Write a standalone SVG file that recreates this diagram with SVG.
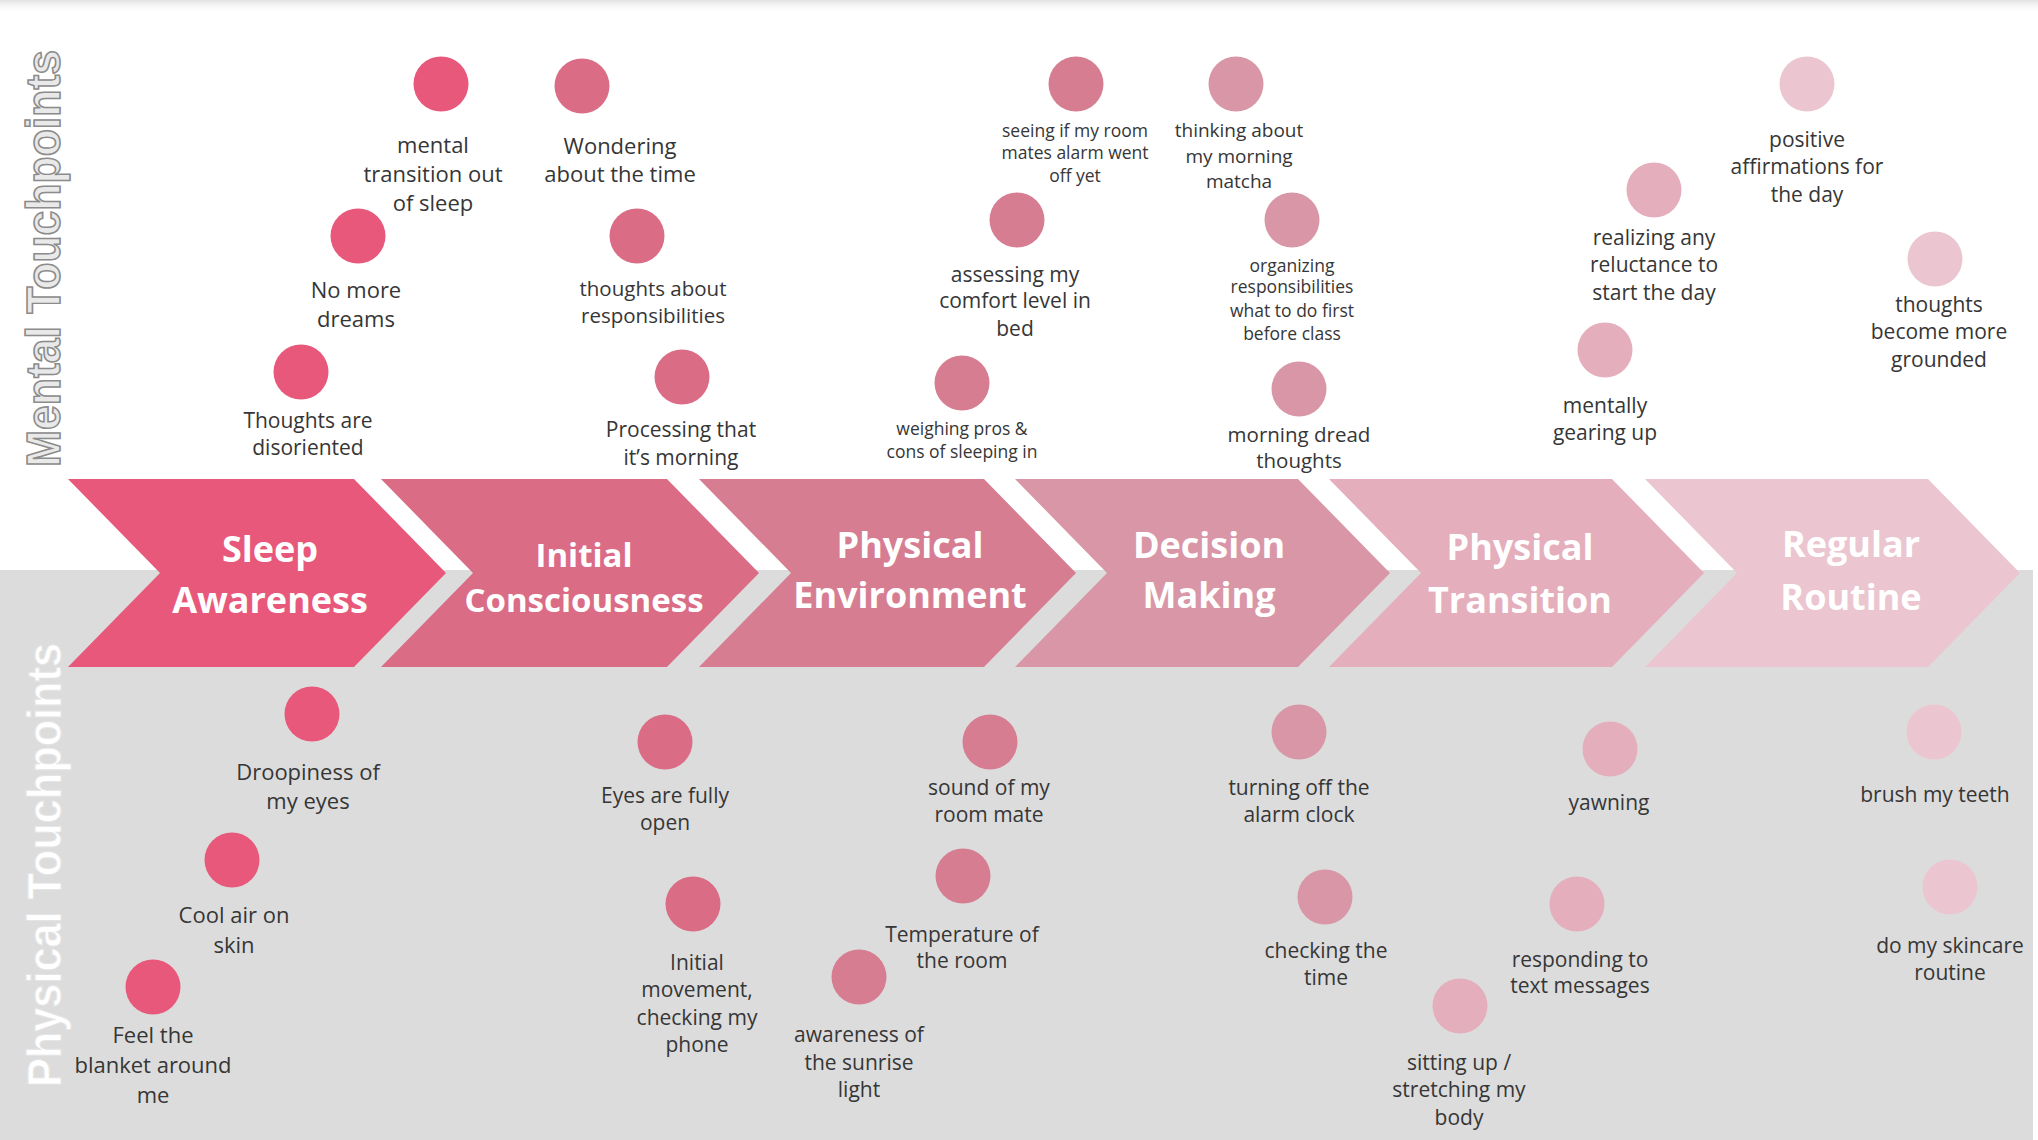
<svg xmlns="http://www.w3.org/2000/svg" width="2038" height="1140" viewBox="0 0 2038 1140">
<defs>
<linearGradient id="topshade" x1="0" y1="0" x2="0" y2="1">
<stop offset="0" stop-color="#e2e2e2"/>
<stop offset="1" stop-color="#ffffff" stop-opacity="0"/>
</linearGradient>
<style>
.lb{font-family:"Open Sans","Noto Sans","DejaVu Sans",sans-serif;fill:#363636;text-anchor:middle}
.ch{font-family:"Open Sans","Noto Sans","DejaVu Sans",sans-serif;font-weight:700;fill:#ffffff;text-anchor:middle}
.side{font-family:"Liberation Sans",Arial,sans-serif;font-weight:700;font-size:48px}
.s1{fill:#E8587A}.s2{fill:#DA6C86}.s3{fill:#D67D92}.s4{fill:#D896A7}.s5{fill:#E4AEBC}.s6{fill:#EBC6D0}
</style>
</defs>
<rect x="0" y="0" width="2038" height="1140" fill="#ffffff"/>
<rect x="0" y="0" width="2038" height="14" fill="url(#topshade)"/>
<rect x="0" y="570" width="2033" height="570" fill="#DCDCDC"/>

<g id="side-labels">
<text class="side" transform="translate(60,467) rotate(-90)" textLength="417" lengthAdjust="spacingAndGlyphs" fill="#e9e9e9" stroke="#8c8c8c" stroke-width="1.6">Mental Touchpoints</text>
<text class="side" transform="translate(61,1087) rotate(-90)" textLength="444" lengthAdjust="spacingAndGlyphs" fill="#ffffff" stroke="#e4e4e4" stroke-width="1">Physical Touchpoints</text>
</g>

<g id="stages">
<g id="stage-sleep-awareness">
<polygon class="s1" points="68,479 354,479 446,573 354,667 68,667 160,573"/>
<text class="ch" font-size="36"><tspan x="270" y="562">Sleep</tspan><tspan x="270" y="613">Awareness</tspan></text>
</g>
<g id="stage-initial-consciousness">
<polygon class="s2" points="381,479 667,479 759,573 667,667 381,667 473,573"/>
<text class="ch" font-size="33"><tspan x="584" y="567">Initial</tspan><tspan x="584" y="612">Consciousness</tspan></text>
</g>
<g id="stage-physical-environment">
<polygon class="s3" points="699,479 984,479 1076,573 984,667 699,667 791,573"/>
<text class="ch" font-size="36"><tspan x="910" y="558">Physical</tspan><tspan x="910" y="608">Environment</tspan></text>
</g>
<g id="stage-decision-making">
<polygon class="s4" points="1015,479 1298,479 1390,573 1298,667 1015,667 1107,573"/>
<text class="ch" font-size="36"><tspan x="1209" y="558">Decision</tspan><tspan x="1209" y="608">Making</tspan></text>
</g>
<g id="stage-physical-transition">
<polygon class="s5" points="1329,479 1612,479 1704,573 1612,667 1329,667 1421,573"/>
<text class="ch" font-size="36"><tspan x="1520" y="560">Physical</tspan><tspan x="1520" y="613">Transition</tspan></text>
</g>
<g id="stage-regular-routine">
<polygon class="s6" points="1645,479 1928,479 2020,573 1928,667 1645,667 1737,573"/>
<text class="ch" font-size="36"><tspan x="1851" y="557">Regular</tspan><tspan x="1851" y="610">Routine</tspan></text>
</g>
</g>

<g id="connectors"></g>

<g id="mental-touchpoints">
<g id="m-mental-transition"><circle class="s1" cx="441" cy="84" r="27.5"/>
<text class="lb" font-size="22"><tspan x="433" y="153">mental</tspan><tspan x="433" y="182">transition out</tspan><tspan x="433" y="211">of sleep</tspan></text></g>
<g id="m-wondering"><circle class="s2" cx="582" cy="86" r="27.5"/>
<text class="lb" font-size="22"><tspan x="620" y="154">Wondering</tspan><tspan x="620" y="182">about the time</tspan></text></g>
<g id="m-no-more-dreams"><circle class="s1" cx="358" cy="236" r="27.5"/>
<text class="lb" font-size="22"><tspan x="356" y="298">No more</tspan><tspan x="356" y="327">dreams</tspan></text></g>
<g id="m-thoughts-responsibilities"><circle class="s2" cx="637" cy="236" r="27.5"/>
<text class="lb" font-size="20.5"><tspan x="653" y="296">thoughts about</tspan><tspan x="653" y="323">responsibilities</tspan></text></g>
<g id="m-disoriented"><circle class="s1" cx="301" cy="372" r="27.5"/>
<text class="lb" font-size="21"><tspan x="308" y="428">Thoughts are</tspan><tspan x="308" y="455">disoriented</tspan></text></g>
<g id="m-processing"><circle class="s2" cx="682" cy="377" r="27.5"/>
<text class="lb" font-size="21"><tspan x="681" y="437">Processing that</tspan><tspan x="681" y="465">it’s morning</tspan></text></g>
<g id="m-weighing"><circle class="s3" cx="962" cy="383" r="27.5"/>
<text class="lb" font-size="17.5"><tspan x="962" y="435">weighing pros &amp;</tspan><tspan x="962" y="458">cons of sleeping in</tspan></text></g>
<g id="m-assessing"><circle class="s3" cx="1017" cy="220" r="27.5"/>
<text class="lb" font-size="21"><tspan x="1015" y="282">assessing my</tspan><tspan x="1015" y="308">comfort level in</tspan><tspan x="1015" y="336">bed</tspan></text></g>
<g id="m-seeing"><circle class="s3" cx="1076" cy="84" r="27.5"/>
<text class="lb" font-size="17.5"><tspan x="1075" y="137">seeing if my room</tspan><tspan x="1075" y="159">mates alarm went</tspan><tspan x="1075" y="182">off yet</tspan></text></g>
<g id="m-thinking"><circle class="s4" cx="1236" cy="84" r="27.5"/>
<text class="lb" font-size="19"><tspan x="1239" y="137">thinking about</tspan><tspan x="1239" y="163">my morning</tspan><tspan x="1239" y="188">matcha</tspan></text></g>
<g id="m-organizing"><circle class="s4" cx="1292" cy="220" r="27.5"/>
<text class="lb" font-size="17.5"><tspan x="1292" y="272">organizing</tspan><tspan x="1292" y="293">responsibilities</tspan><tspan x="1292" y="317">what to do first</tspan><tspan x="1292" y="340">before class</tspan></text></g>
<g id="m-morning-dread"><circle class="s4" cx="1299" cy="389" r="27.5"/>
<text class="lb" font-size="20.5"><tspan x="1299" y="442">morning dread</tspan><tspan x="1299" y="468">thoughts</tspan></text></g>
<g id="m-realizing"><circle class="s5" cx="1654" cy="190" r="27.5"/>
<text class="lb" font-size="21"><tspan x="1654" y="245">realizing any</tspan><tspan x="1654" y="272">reluctance to</tspan><tspan x="1654" y="300">start the day</tspan></text></g>
<g id="m-mentally"><circle class="s5" cx="1605" cy="350" r="27.5"/>
<text class="lb" font-size="21"><tspan x="1605" y="413">mentally</tspan><tspan x="1605" y="440">gearing up</tspan></text></g>
<g id="m-positive"><circle class="s6" cx="1807" cy="84" r="27.5"/>
<text class="lb" font-size="21"><tspan x="1807" y="147">positive</tspan><tspan x="1807" y="174">affirmations for</tspan><tspan x="1807" y="202">the day</tspan></text></g>
<g id="m-grounded"><circle class="s6" cx="1935" cy="259" r="27.5"/>
<text class="lb" font-size="21"><tspan x="1939" y="312">thoughts</tspan><tspan x="1939" y="339">become more</tspan><tspan x="1939" y="367">grounded</tspan></text></g>
</g>

<g id="physical-touchpoints">
<g id="p-droopiness"><circle class="s1" cx="312" cy="714" r="27.5"/>
<text class="lb" font-size="22"><tspan x="308" y="780">Droopiness of</tspan><tspan x="308" y="809">my eyes</tspan></text></g>
<g id="p-cool-air"><circle class="s1" cx="232" cy="860" r="27.5"/>
<text class="lb" font-size="22"><tspan x="234" y="923">Cool air on</tspan><tspan x="234" y="953">skin</tspan></text></g>
<g id="p-blanket"><circle class="s1" cx="153" cy="987" r="27.5"/>
<text class="lb" font-size="22"><tspan x="153" y="1043">Feel the</tspan><tspan x="153" y="1073">blanket around</tspan><tspan x="153" y="1103">me</tspan></text></g>
<g id="p-eyes-open"><circle class="s2" cx="665" cy="742" r="27.5"/>
<text class="lb" font-size="21"><tspan x="665" y="803">Eyes are fully</tspan><tspan x="665" y="830">open</tspan></text></g>
<g id="p-initial-movement"><circle class="s2" cx="693" cy="904" r="27.5"/>
<text class="lb" font-size="21"><tspan x="697" y="970">Initial</tspan><tspan x="697" y="997">movement,</tspan><tspan x="697" y="1025">checking my</tspan><tspan x="697" y="1052">phone</tspan></text></g>
<g id="p-sunrise"><circle class="s3" cx="859" cy="977" r="27.5"/>
<text class="lb" font-size="21"><tspan x="859" y="1042">awareness of</tspan><tspan x="859" y="1070">the sunrise</tspan><tspan x="859" y="1097">light</tspan></text></g>
<g id="p-sound"><circle class="s3" cx="990" cy="742" r="27.5"/>
<text class="lb" font-size="21"><tspan x="989" y="795">sound of my</tspan><tspan x="989" y="822">room mate</tspan></text></g>
<g id="p-temperature"><circle class="s3" cx="963" cy="876" r="27.5"/>
<text class="lb" font-size="21"><tspan x="962" y="942">Temperature of</tspan><tspan x="962" y="968">the room</tspan></text></g>
<g id="p-alarm"><circle class="s4" cx="1299" cy="732" r="27.5"/>
<text class="lb" font-size="21"><tspan x="1299" y="795">turning off the</tspan><tspan x="1299" y="822">alarm clock</tspan></text></g>
<g id="p-checking-time"><circle class="s4" cx="1325" cy="897" r="27.5"/>
<text class="lb" font-size="21"><tspan x="1326" y="958">checking the</tspan><tspan x="1326" y="985">time</tspan></text></g>
<g id="p-yawning"><circle class="s5" cx="1610" cy="749" r="27.5"/>
<text class="lb" font-size="21"><tspan x="1609" y="810">yawning</tspan></text></g>
<g id="p-responding"><circle class="s5" cx="1577" cy="904" r="27.5"/>
<text class="lb" font-size="21"><tspan x="1580" y="967">responding to</tspan><tspan x="1580" y="993">text messages</tspan></text></g>
<g id="p-sitting-up"><circle class="s5" cx="1460" cy="1006" r="27.5"/>
<text class="lb" font-size="21"><tspan x="1459" y="1070">sitting up /</tspan><tspan x="1459" y="1097">stretching my</tspan><tspan x="1459" y="1125">body</tspan></text></g>
<g id="p-brush"><circle class="s6" cx="1934" cy="732" r="27.5"/>
<text class="lb" font-size="21"><tspan x="1935" y="802">brush my teeth</tspan></text></g>
<g id="p-skincare"><circle class="s6" cx="1950" cy="887" r="27.5"/>
<text class="lb" font-size="21"><tspan x="1950" y="953">do my skincare</tspan><tspan x="1950" y="980">routine</tspan></text></g>
</g>
</svg>
